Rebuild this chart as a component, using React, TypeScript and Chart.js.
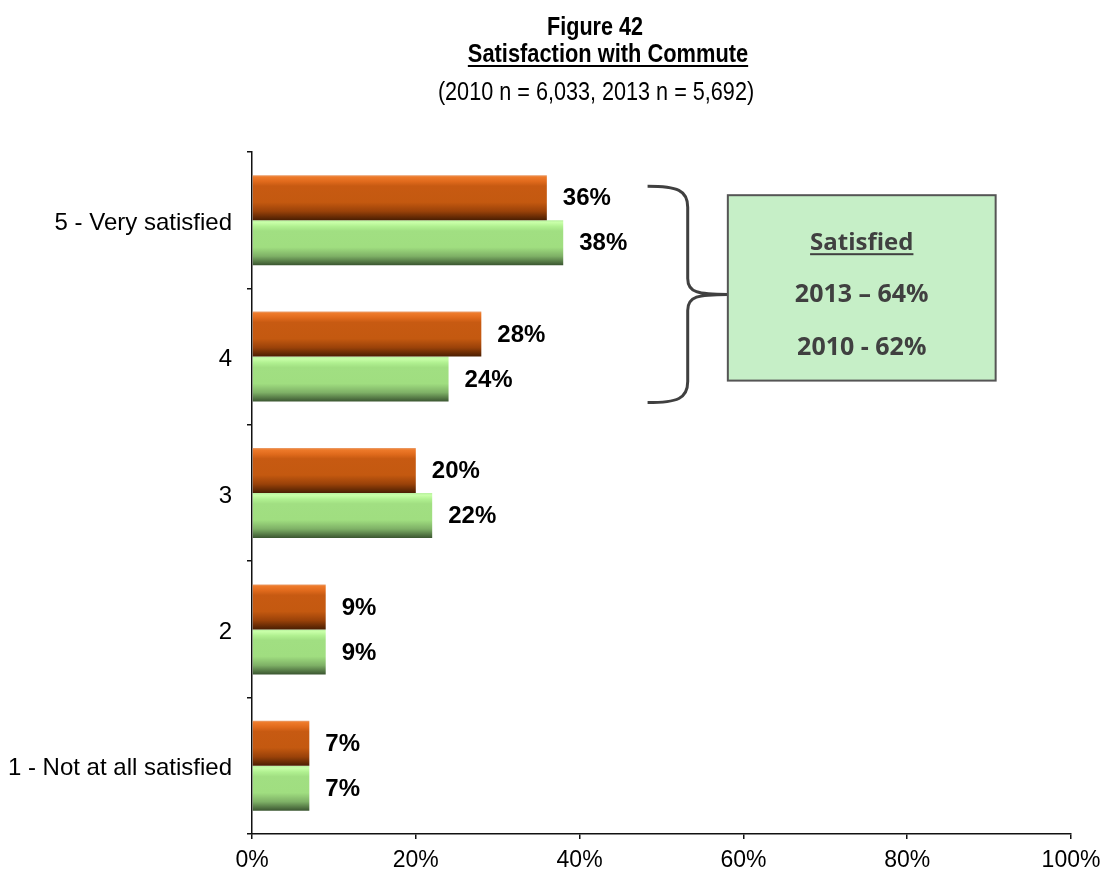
import React, { useEffect, useRef } from "react";
import { Chart, registerables } from "chart.js";

Chart.register(...registerables);

const categories = ["5 - Very satisfied", "4", "3", "2", "1 - Not at all satisfied"];
const values2013 = [36, 28, 20, 9, 7];
const values2010 = [38, 24, 22, 9, 7];
const xTickValues = [0, 20, 40, 60, 80, 100];
const titleLine1 = "Figure 42";
const titleLine2 = "Satisfaction with Commute";
const subtitle = "(2010 n = 6,033, 2013 n = 5,692)";
const boxHeading = "Satisfied";
const boxLines = ["2013 \u2013 64%", "2010 - 62%"];

const CAT_PCT = 0.66;
const ARIAL = "'Liberation Sans', Arial, sans-serif";
const BOXFONT = "'Open Sans', sans-serif";

const orangeStops: [number, string][] = [
  [0, "#e9a070"], [0.04, "#ee7a2a"], [0.14, "#e06a1c"], [0.24, "#c75a12"],
  [0.6, "#c45910"], [0.8, "#9a4209"], [1, "#4a1e02"],
];
const greenStops: [number, string][] = [
  [0, "#b8f0a0"], [0.05, "#c8ffa8"], [0.14, "#b0f090"], [0.24, "#a1df82"],
  [0.6, "#a0de80"], [0.8, "#7eb066"], [1, "#3a5530"],
];

function barFill(stops: [number, string][], upper: boolean, solid: string) {
  return (c: any) => {
    const chart = c.chart;
    const ys = chart.scales && chart.scales.y;
    if (!ys || c.dataIndex === undefined) return solid;
    const center = ys.getPixelForValue(c.dataIndex);
    const band = ys.getPixelForValue(1) - ys.getPixelForValue(0);
    const thick = (band * CAT_PCT) / 2;
    if (!isFinite(center) || !isFinite(thick) || thick <= 0) return solid;
    const top = upper ? center - thick : center;
    const g = chart.ctx.createLinearGradient(0, top, 0, top + thick);
    stops.forEach(([o, col]) => g.addColorStop(o, col));
    return g;
  };
}

function drawScaledText(ctx: CanvasRenderingContext2D, text: string, cx: number, baseline: number, font: string, sx: number) {
  ctx.save();
  ctx.font = font;
  ctx.textAlign = "center";
  ctx.textBaseline = "alphabetic";
  ctx.translate(cx, baseline);
  ctx.scale(sx, 1);
  ctx.fillText(text, 0, 0);
  const w = ctx.measureText(text).width * sx;
  ctx.restore();
  return w;
}

const decorPlugin = {
  id: "decor",
  afterDatasetsDraw(chart: any) {
    const ctx = chart.ctx as CanvasRenderingContext2D;
    ctx.save();
    ctx.fillStyle = "#000";
    ctx.font = `bold 24px ${ARIAL}`;
    ctx.textAlign = "left";
    ctx.textBaseline = "middle";
    chart.data.datasets.forEach((ds: any, di: number) => {
      const meta = chart.getDatasetMeta(di);
      meta.data.forEach((el: any, i: number) => {
        ctx.fillText(`${ds.data[i]}%`, el.x + 16, el.y + 1);
      });
    });
    ctx.restore();
  },
  afterDraw(chart: any) {
    const ctx = chart.ctx as CanvasRenderingContext2D;
    const xs = chart.scales.x;
    const ys = chart.scales.y;

    ctx.save();
    ctx.fillStyle = "#000";
    drawScaledText(ctx, titleLine1, 595, 35, `bold 26px ${ARIAL}`, 0.83);
    const w = drawScaledText(ctx, titleLine2, 608, 62, `bold 26px ${ARIAL}`, 0.84);
    ctx.fillRect(608 - w / 2, 65, w, 2);
    drawScaledText(ctx, subtitle, 596, 100, `25px ${ARIAL}`, 0.865);
    ctx.restore();

    const c0 = ys.getPixelForValue(0);
    const c1 = ys.getPixelForValue(1);
    const yTop = c0 - 34;
    const yBot = c1 + 46;
    const yMid = (yTop + yBot) / 2;
    const bx0 = xs.getPixelForValue(48.3);
    const bx1 = xs.getPixelForValue(53.2);
    const bx2 = xs.getPixelForValue(58.1);
    ctx.save();
    ctx.strokeStyle = "#404040";
    ctx.lineWidth = 3;
    ctx.beginPath();
    ctx.moveTo(bx0, yTop);
    ctx.bezierCurveTo(bx0 + 30, yTop, bx1, yTop + 4, bx1, yTop + 21);
    ctx.lineTo(bx1, yMid - 16);
    ctx.bezierCurveTo(bx1, yMid - 2, bx1 + 10, yMid, bx2, yMid);
    ctx.moveTo(bx2, yMid);
    ctx.bezierCurveTo(bx1 + 10, yMid, bx1, yMid + 2, bx1, yMid + 16);
    ctx.lineTo(bx1, yBot - 21);
    ctx.bezierCurveTo(bx1, yBot - 4, bx0 + 30, yBot, bx0, yBot);
    ctx.stroke();
    ctx.restore();

    const left = bx2;
    const right = xs.getPixelForValue(90.8);
    const top = c0 - 25;
    const bottom = c1 + 24;
    ctx.save();
    ctx.fillStyle = "#c6efc7";
    ctx.fillRect(left, top, right - left, bottom - top);
    ctx.strokeStyle = "#555";
    ctx.lineWidth = 2;
    ctx.strokeRect(left, top, right - left, bottom - top);
    const cx = (left + right) / 2;
    ctx.fillStyle = "#404040";
    const hw = drawScaledText(ctx, boxHeading, cx, top + 55, `bold 24px ${BOXFONT}`, 1);
    ctx.fillRect(cx - hw / 2, top + 58, hw, 2);
    drawScaledText(ctx, boxLines[0], cx, top + 107, `bold 25px ${BOXFONT}`, 1);
    drawScaledText(ctx, boxLines[1], cx, top + 160, `bold 25px ${BOXFONT}`, 1);
    ctx.restore();
  },
};

export default function App() {
  const ref = useRef<HTMLCanvasElement | null>(null);
  useEffect(() => {
    document.body.style.margin = "0";
    if (!ref.current) return;
    const chart = new Chart(ref.current, {
      type: "bar",
      data: {
        labels: categories,
        datasets: [
          {
            label: "2013",
            data: values2013,
            backgroundColor: barFill(orangeStops, true, "#c55a11"),
            borderWidth: 0,
            categoryPercentage: CAT_PCT,
            barPercentage: 1,
          },
          {
            label: "2010",
            data: values2010,
            backgroundColor: barFill(greenStops, false, "#a0de80"),
            borderWidth: 0,
            categoryPercentage: CAT_PCT,
            barPercentage: 1,
          },
        ],
      },
      options: {
        indexAxis: "y",
        responsive: false,
        animation: false,
        devicePixelRatio: 1,
        layout: { padding: { top: 152, right: 33, left: 0, bottom: 0 } },
        plugins: {
          legend: { display: false },
          title: { display: false },
          tooltip: { enabled: false },
        },
        scales: {
          x: {
            min: 0,
            max: 100,
            afterBuildTicks: (s: any) => {
              s.ticks = xTickValues.map((v) => ({ value: v }));
            },
            afterFit: (s: any) => {
              s.height = 37;
              s.paddingLeft = 0;
              s.paddingRight = 0;
            },
            ticks: {
              callback: (v: any) => `${v}%`,
              color: "#000",
              font: { family: ARIAL, size: 23 },
              padding: 8,
              maxRotation: 0,
            },
            grid: { drawOnChartArea: false, drawTicks: true, tickLength: 5, color: "#111", lineWidth: 1.5 },
            border: { display: true, color: "#111", width: 1.5 },
          },
          y: {
            afterFit: (s: any) => {
              s.width = 252;
              s.paddingTop = 0;
              s.paddingBottom = 0;
            },
            ticks: {
              color: "#000",
              font: { family: ARIAL, size: 24 },
              padding: 15,
              labelOffset: 3,
            },
            grid: { drawOnChartArea: false, drawTicks: true, tickLength: 5, color: "#111", lineWidth: 1.5, offset: true },
            border: { display: true, color: "#111", width: 1.5 },
          },
        },
      },
      plugins: [decorPlugin],
    });
    return () => chart.destroy();
  }, []);
  return (
    <div style={{ width: 1104, height: 871 }}>
      <canvas ref={ref} width={1104} height={871} />
    </div>
  );
}
